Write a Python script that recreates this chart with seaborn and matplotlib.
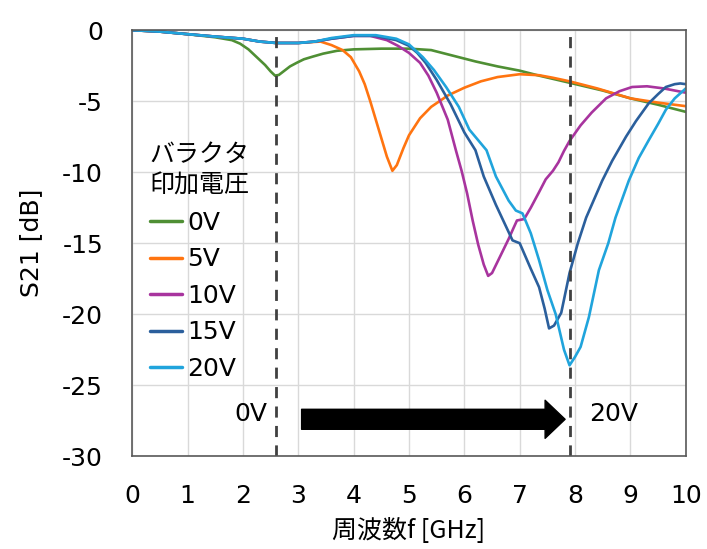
import numpy as np
import pandas as pd
import matplotlib
matplotlib.use("Agg")
import matplotlib.pyplot as plt
import seaborn as sns

voltages = ["0V", "5V", "10V", "15V", "20V"]
colors = ["#4f8f34", "#ff7410", "#a8349e", "#2b5f9c", "#20a4dc"]

f_0V = [0, 0.5, 1, 1.5, 1.8, 1.95, 2.1, 2.25, 2.4, 2.5, 2.58, 2.65, 2.75, 2.85, 2.97, 3.1, 3.27, 3.45, 3.7, 4.0, 4.5, 5.0, 5.4, 5.8, 6.2, 6.6, 7.0, 7.35, 7.9, 8.5, 9.0, 9.5, 10]
s_0V = [0, -0.1, -0.28, -0.5, -0.7, -0.95, -1.35, -1.9, -2.45, -2.9, -3.2, -3.15, -2.85, -2.55, -2.3, -2.05, -1.85, -1.65, -1.45, -1.35, -1.3, -1.3, -1.4, -1.8, -2.2, -2.55, -2.85, -3.2, -3.7, -4.25, -4.8, -5.25, -5.75]

f_5V = [0, 0.5, 1, 1.5, 2, 2.3, 2.6, 3.0, 3.4, 3.6, 3.8, 3.95, 4.1, 4.2, 4.3, 4.4, 4.5, 4.6, 4.7, 4.78, 4.9, 5.0, 5.2, 5.4, 5.7, 6.0, 6.3, 6.6, 7.0, 7.35, 7.6, 7.9, 8.4, 9.0, 9.5, 10]
s_5V = [0, -0.1, -0.28, -0.45, -0.6, -0.8, -0.9, -0.9, -0.8, -1.05, -1.4, -1.9, -2.9, -3.8, -5.0, -6.3, -7.6, -8.9, -9.9, -9.5, -8.3, -7.4, -6.2, -5.4, -4.6, -4.05, -3.6, -3.3, -3.1, -3.17, -3.35, -3.6, -4.1, -4.8, -5.1, -5.35]

f_10V = [0, 0.5, 1, 1.5, 2, 2.3, 2.6, 3.0, 3.3, 3.6, 4.0, 4.3, 4.6, 4.8, 5.0, 5.2, 5.35, 5.5, 5.7, 5.85, 5.95, 6.05, 6.15, 6.25, 6.35, 6.43, 6.5, 6.6, 6.7, 6.8, 6.88, 6.95, 7.08, 7.2, 7.35, 7.47, 7.6, 7.7, 7.8, 7.9, 8.1, 8.3, 8.56, 8.8, 9.03, 9.3, 9.6, 10]
s_10V = [0, -0.1, -0.28, -0.45, -0.6, -0.8, -0.9, -0.9, -0.8, -0.6, -0.4, -0.4, -0.7, -1.1, -1.6, -2.3, -3.2, -4.4, -6.3, -8.5, -9.9, -11.5, -13.4, -15.1, -16.5, -17.3, -17.1, -16.3, -15.5, -14.7, -14.0, -13.4, -13.3, -12.5, -11.4, -10.5, -9.9, -9.3, -8.5, -7.8, -6.7, -5.8, -4.8, -4.3, -4.0, -3.95, -4.1, -4.4]

f_15V = [0, 0.5, 1, 1.5, 2, 2.3, 2.6, 3.0, 3.3, 3.6, 4.0, 4.4, 4.77, 5.0, 5.15, 5.3, 5.5, 5.75, 6.0, 6.2, 6.35, 6.57, 6.75, 6.87, 7.0, 7.1, 7.2, 7.35, 7.45, 7.53, 7.62, 7.75, 7.9, 8.05, 8.2, 8.49, 8.67, 8.92, 9.1, 9.33, 9.5, 9.64, 9.8, 9.9, 10]
s_15V = [0, -0.1, -0.28, -0.45, -0.6, -0.8, -0.9, -0.9, -0.8, -0.6, -0.4, -0.4, -0.7, -1.1, -1.6, -2.3, -3.5, -5.2, -7.2, -8.45, -10.3, -12.3, -13.8, -14.8, -15.0, -15.9, -16.8, -18.1, -19.6, -21.0, -20.8, -19.9, -17.1, -15.0, -13.2, -10.6, -9.2, -7.5, -6.4, -5.15, -4.5, -4.0, -3.8, -3.75, -3.8]

f_20V = [0, 0.5, 1, 1.5, 2, 2.3, 2.6, 3.0, 3.3, 3.6, 4.0, 4.4, 4.77, 5.0, 5.25, 5.45, 5.67, 5.9, 6.09, 6.4, 6.57, 6.8, 6.93, 7.05, 7.2, 7.35, 7.5, 7.65, 7.8, 7.9, 8.0, 8.1, 8.25, 8.43, 8.6, 8.73, 8.97, 9.15, 9.33, 9.5, 9.64, 9.8, 10]
s_20V = [0, -0.1, -0.28, -0.45, -0.6, -0.8, -0.9, -0.9, -0.8, -0.55, -0.35, -0.35, -0.6, -1.0, -1.9, -2.8, -4.0, -5.4, -7.0, -8.45, -10.3, -12.0, -12.7, -12.9, -14.3, -16.2, -18.3, -20.0, -22.5, -23.6, -23.0, -22.3, -20.2, -16.9, -15.0, -13.2, -10.6, -9.0, -7.75, -6.6, -5.6, -4.8, -4.1]

x_ticks = list(range(0, 11))
y_ticks = [0, -5, -10, -15, -20, -25, -30]
marker_f = [2.6, 7.9]

series = {"0V": (f_0V, s_0V), "5V": (f_5V, s_5V), "10V": (f_10V, s_10V),
          "15V": (f_15V, s_15V), "20V": (f_20V, s_20V)}
rows = []
for v in voltages:
    fs, ss = series[v]
    for a, b in zip(fs, ss):
        rows.append({"f": a, "S21": b, "V": v})
df = pd.DataFrame(rows)

sns.set_theme(style="white")
plt.rcParams['font.family'] = ['DejaVu Sans', 'Noto Sans CJK JP']
plt.rcParams['text.color'] = '#000000'
plt.rcParams['axes.labelcolor'] = '#000000'
FS = 18

fig = plt.figure(figsize=(7.07, 5.49), dpi=100)
ax = fig.add_axes([0.187, 0.169, 0.783, 0.776])

sns.lineplot(data=df, x="f", y="S21", hue="V", hue_order=voltages,
             palette=colors, estimator=None, sort=False, linewidth=1.9, ax=ax)

ax.set_xlim(0, 10)
ax.set_ylim(-30, 0)
ax.set_xticks(x_ticks)
ax.set_yticks(y_ticks)
ax.set_yticklabels([str(t) for t in y_ticks])
ax.grid(True, color="#d9d9d9", linewidth=1)
ax.set_axisbelow(True)
for sp in ax.spines.values():
    sp.set_color("#595959")
    sp.set_linewidth(1.2)
ax.tick_params(axis="x", labelsize=FS, length=0, pad=20, colors="#000000")
ax.tick_params(axis="y", labelsize=FS, length=0, pad=21, colors="#000000")
ax.set_xlabel("周波数f [GHz]", fontsize=FS, family=['Noto Sans CJK JP', 'DejaVu Sans'],
              labelpad=7, color="#000000")
ax.set_ylabel("S21 [dB]", fontsize=FS, labelpad=14, color="#000000")

for m in marker_f:
    ax.axvline(m, color="#404040", linestyle=(0, (4, 3)), linewidth=2)

ax.annotate("", xy=(7.82, -27.4), xytext=(3.06, -27.4),
            arrowprops=dict(arrowstyle="simple,head_length=0.72,head_width=1.37,tail_width=0.72",
                            color="black", mutation_scale=20, shrinkA=0, shrinkB=0))
ax.text(2.45, -27.0, "0V", fontsize=FS, ha="right", va="center", color="#000000")
ax.text(8.25, -27.0, "20V", fontsize=FS, ha="left", va="center", color="#000000")

leg = ax.legend(title="バラクタ\n印加電圧", loc="upper left", bbox_to_anchor=(0.0, 0.78),
                frameon=False, fontsize=FS, title_fontsize=FS, handlelength=1.3,
                handletextpad=0.2, labelspacing=0.5, borderaxespad=0.3)
leg._legend_box.align = "left"
leg.get_title().set_family(['Noto Sans CJK JP', 'DejaVu Sans'])
leg.get_title().set_linespacing(1.25)
leg.get_title().set_color("#000000")
for t in leg.get_texts():
    t.set_color("#000000")
for line in leg.get_lines():
    line.set_linewidth(2.5)

fig.savefig("out.png", dpi=100)
